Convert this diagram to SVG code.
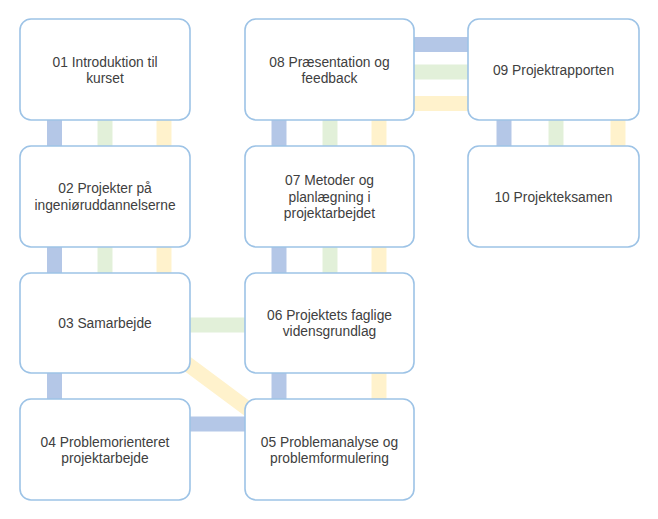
<svg xmlns="http://www.w3.org/2000/svg" width="658" height="519" viewBox="0 0 658 519">
<style>
.bg{fill:#ffffff}
.node{fill:#ffffff;stroke:#9dc3e6;stroke-width:1.6}
.t{font-family:"Liberation Sans",Arial,sans-serif;font-size:13.8px;fill:#404040;text-anchor:middle}
.b{stroke:#b4c7e7;stroke-width:15;fill:none}
.g{stroke:#e2f0d9;stroke-width:15;fill:none}
.y{stroke:#fff2cc;stroke-width:15;fill:none}
</style>
<rect class="bg" x="0" y="0" width="658" height="519"/>
<g id="connectors">
  <line class="b" x1="54.5" y1="120" x2="54.5" y2="146"/>
  <line class="g" x1="105" y1="120" x2="105" y2="146"/>
  <line class="y" x1="164" y1="120" x2="164" y2="146"/>
  <line class="b" x1="54.5" y1="247" x2="54.5" y2="273"/>
  <line class="g" x1="105" y1="247" x2="105" y2="273"/>
  <line class="y" x1="164" y1="247" x2="164" y2="273"/>
  <line class="b" x1="54.5" y1="373" x2="54.5" y2="399"/>
  <line class="b" x1="279" y1="120" x2="279" y2="146"/>
  <line class="g" x1="330" y1="120" x2="330" y2="146"/>
  <line class="y" x1="379" y1="120" x2="379" y2="146"/>
  <line class="b" x1="279" y1="247" x2="279" y2="273"/>
  <line class="g" x1="330" y1="247" x2="330" y2="273"/>
  <line class="y" x1="379" y1="247" x2="379" y2="273"/>
  <line class="b" x1="279" y1="373" x2="279" y2="399"/>
  <line class="y" x1="379" y1="373" x2="379" y2="399"/>
  <line class="b" x1="504" y1="120" x2="504" y2="146"/>
  <line class="g" x1="556" y1="120" x2="556" y2="146"/>
  <line class="y" x1="618" y1="120" x2="618" y2="146"/>
  <line class="b" x1="414" y1="44.5" x2="468" y2="44.5"/>
  <line class="g" x1="414" y1="72" x2="468" y2="72"/>
  <line class="y" x1="414" y1="103.5" x2="468" y2="103.5"/>
  <line class="g" x1="190" y1="325" x2="245" y2="325"/>
  <line class="b" x1="190" y1="424" x2="245" y2="424"/>
  <line class="y" x1="178" y1="357" x2="252" y2="412"/>
</g>
<g id="n01"><rect class="node" x="20" y="19" width="170" height="101" rx="11"/><text class="t" x="105" y="66.5">01 Introduktion til</text><text class="t" x="105" y="83">kurset</text></g>
<g id="n02"><rect class="node" x="20" y="146" width="170" height="101" rx="11"/><text class="t" x="105" y="193">02 Projekter på</text><text class="t" x="105" y="209.5">ingeniøruddannelserne</text></g>
<g id="n03"><rect class="node" x="20" y="273" width="170" height="100" rx="11"/><text class="t" x="105" y="328">03 Samarbejde</text></g>
<g id="n04"><rect class="node" x="20" y="399" width="170" height="101" rx="11"/><text class="t" x="105" y="446.5">04 Problemorienteret</text><text class="t" x="105" y="463">projektarbejde</text></g>
<g id="n05"><rect class="node" x="245" y="399" width="169" height="101" rx="11"/><text class="t" x="329.5" y="446.5">05 Problemanalyse og</text><text class="t" x="329.5" y="463">problemformulering</text></g>
<g id="n06"><rect class="node" x="245" y="273" width="169" height="100" rx="11"/><text class="t" x="329.5" y="319.5">06 Projektets faglige</text><text class="t" x="329.5" y="336">vidensgrundlag</text></g>
<g id="n07"><rect class="node" x="245" y="146" width="169" height="101" rx="11"/><text class="t" x="329.5" y="185">07 Metoder og</text><text class="t" x="329.5" y="201.5">planlægning i</text><text class="t" x="329.5" y="218">projektarbejdet</text></g>
<g id="n08"><rect class="node" x="245" y="19" width="169" height="101" rx="11"/><text class="t" x="329.5" y="66.5">08 Præsentation og</text><text class="t" x="329.5" y="83">feedback</text></g>
<g id="n09"><rect class="node" x="468" y="19" width="171" height="101" rx="11"/><text class="t" x="553.5" y="74.5">09 Projektrapporten</text></g>
<g id="n10"><rect class="node" x="468" y="146" width="171" height="101" rx="11"/><text class="t" x="553.5" y="201.5">10 Projekteksamen</text></g>
</svg>
